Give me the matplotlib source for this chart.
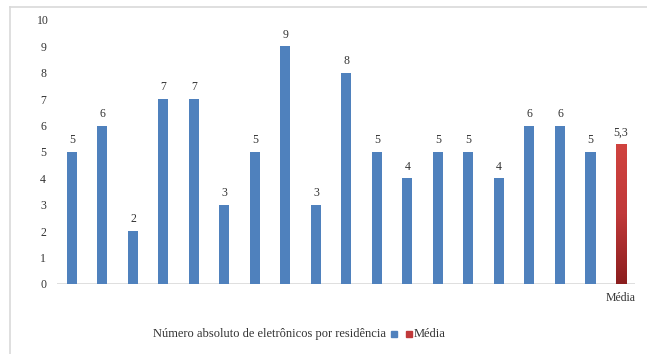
import numpy as np
import matplotlib
matplotlib.use("Agg")
import matplotlib.pyplot as plt
from matplotlib.colors import LinearSegmentedColormap
from matplotlib.patches import Rectangle
from matplotlib.lines import Line2D

plt.rcParams['font.family'] = ['Liberation Serif', 'DejaVu Serif']

# Electronics counted in each household
values = [5, 6, 2, 7, 7, 3, 5, 9, 3, 8, 5, 4, 5, 5, 4, 6, 6, 5]
mean_value = 5.3
mean_label = "5,3"
mean_category = "Média"
series_label = "Número absoluto de eletrônicos por residência"
yticks = list(range(0, 11))

BLUE = "#4F81BD"
GRAY = "#D9D9D9"
TEXT = "#333333"

fig = plt.figure(figsize=(6.47, 3.54), dpi=100)
W, H = 647, 354

# outer frame lines (top and left)
fig.add_artist(Line2D([10 / W, 1.0], [1 - 7 / H, 1 - 7 / H], color=GRAY, lw=1.2))
fig.add_artist(Line2D([10 / W, 10 / W], [0, 1 - 7 / H], color=GRAY, lw=1.2))

ax = fig.add_axes([57 / W, 1 - 284 / H, 578 / W, (284 - 20) / H])
n = len(values)
x = np.arange(n)
bw = 0.33

ax.bar(x, values, width=bw, color=BLUE, zorder=2)
for xi, v in zip(x, values):
    ax.text(xi, v + 0.22, str(v), ha="center", va="bottom", fontsize=8.5, color=TEXT)

# mean bar with vertical red gradient
mx = n
mbar = ax.bar([mx], [mean_value], width=bw, color="none", zorder=2)[0]
cmap = LinearSegmentedColormap.from_list("redgrad", ["#8B1E1E", "#C0393A", "#D0433F"])
grad = np.linspace(0, 1, 256).reshape(-1, 1)
im = ax.imshow(grad, cmap=cmap, aspect="auto", origin="lower",
               extent=[mx - bw / 2, mx + bw / 2, 0, mean_value], zorder=2)
im.set_clip_path(mbar)
ax.text(mx, mean_value + 0.22, mean_label, ha="center", va="bottom", fontsize=8.5, color=TEXT)

ax.set_xlim(-0.49, n + 0.46)
ax.set_ylim(0, 10)
ax.set_aspect("auto")
ax.axhline(0, color=GRAY, lw=1.2, zorder=1)

for s in ax.spines.values():
    s.set_visible(False)
ax.set_yticks(yticks)
ax.set_yticklabels([str(t) for t in yticks], fontsize=8.5, color=TEXT, ha="center")
ax.tick_params(axis="y", length=0, pad=10)
ax.set_xticks([mx])
ax.set_xticklabels([mean_category], fontsize=8.5, color=TEXT)
ax.tick_params(axis="x", length=0, pad=6)

# legend drawn in figure coordinates
ly = 1 - 334 / H
fig.text(153 / W, ly, series_label, fontsize=9, color=TEXT, va="center", ha="left")
sq = 6
fig.add_artist(Rectangle((391 / W, ly - sq / 2 / H), sq / W, sq / H, color=BLUE, transform=fig.transFigure))
fig.add_artist(Rectangle((406 / W, ly - sq / 2 / H), sq / W, sq / H, color="#C0393A", transform=fig.transFigure))
fig.text(414 / W, ly, mean_category, fontsize=9, color=TEXT, va="center", ha="left")

fig.savefig("out.png", dpi=100)
